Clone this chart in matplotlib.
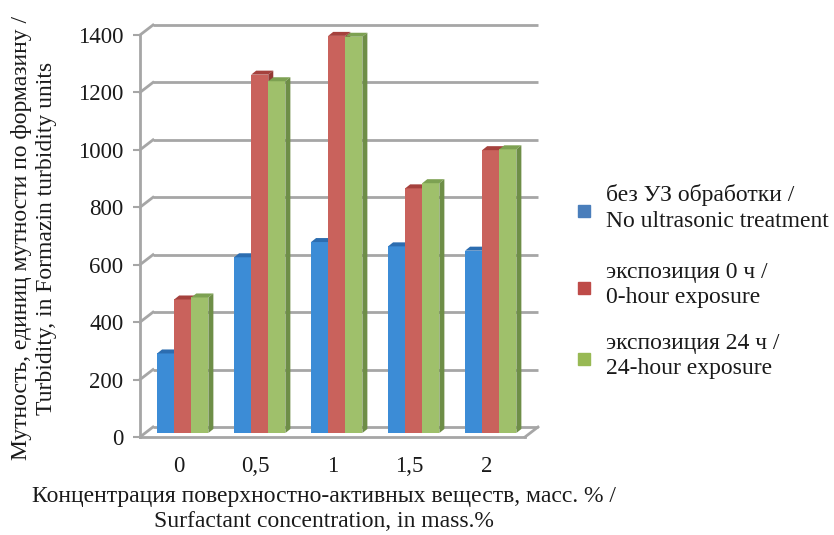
import matplotlib
matplotlib.use("Agg")
import matplotlib.pyplot as plt
from matplotlib.patches import Polygon

plt.rcParams['font.family'] = ['Liberation Serif', 'DejaVu Serif']

# Data
categories = ["0", "0,5", "1", "1,5", "2"]
no_ultrasound = [277, 612, 665, 650, 635]
exposure_0h = [465, 1248, 1383, 852, 985]
exposure_24h = [472, 1225, 1380, 870, 988]

series_labels = [
    "без УЗ обработки /\nNo ultrasonic treatment",
    "экспозиция 0 ч /\n0-hour exposure",
    "экспозиция 24 ч /\n24-hour exposure",
]
y_ticks = [0, 200, 400, 600, 800, 1000, 1200, 1400]
y_label = "Мутность, единиц мутности по формазину /\nTurbidity, in Formazin turbidity units"
x_label = "Концентрация поверхностно-активных веществ, масс. % /\nSurfactant concentration, in mass.%"

# Styling
front_cols = ["#3C8CD6", "#C9625C", "#9FC06B"]
top_cols = ["#2C6DB0", "#A5413D", "#7DA152"]
side_cols = ["#2A64A0", "#943934", "#6E8E47"]
legend_cols = ["#4A7EBB", "#BE4B48", "#98B954"]
grid_col = "#A6A6A6"
text_col = "#1a1a1a"
FS_TICK = 16.5
FS = 17

W, H = 834, 535
fig = plt.figure(figsize=(W / 100, H / 100), dpi=100)
ax_l, ax_b, ax_w, ax_h = 140, 98, 385, 402
ax = fig.add_axes([ax_l / W, ax_b / H, ax_w / W, ax_h / H])
x0, x1 = -0.5, 4.5
ax.set_xlim(x0, x1)
ax.set_ylim(0, 1400)

# pixel -> data unit conversions for the pseudo-3D depth
px_x = (x1 - x0) / ax_w
px_y = 1400 / ax_h

# back wall grid and floor
wall_dx, wall_dy = 13 * px_x, 10 * px_y
for v in y_ticks:
    ax.plot([x0 + wall_dx, x1 + wall_dx], [v + wall_dy] * 2, color=grid_col,
            lw=2, zorder=1, clip_on=False, solid_capstyle='butt')
    ax.plot([x0, x0 + wall_dx], [v, v + wall_dy], color=grid_col, lw=2,
            zorder=1, clip_on=False)
ax.plot([x0, x1], [0, 0], color=grid_col, lw=2, zorder=1, clip_on=False)
ax.plot([x1, x1 + wall_dx], [0, wall_dy], color=grid_col, lw=2, zorder=1,
        clip_on=False)

# bars
bw = 0.222
fx, fy = 5 * px_x, 4 * px_y
bx, by = 5 * px_x, 4 * px_y
series = [no_ultrasound, exposure_0h, exposure_24h]
z = 3
for i in range(len(categories)):
    for s, vals in enumerate(series):
        v = vals[i]
        left = i + (s - 1.5) * bw - 0.01 + fx
        ax.bar(left, v, width=bw, bottom=fy, align='edge', color=front_cols[s],
               zorder=z, lw=0)
        top = Polygon([(left, v + fy), (left + bx, v + fy + by),
                       (left + bw + bx, v + fy + by), (left + bw, v + fy)],
                      closed=True, facecolor=top_cols[s], lw=0, zorder=z,
                      clip_on=False)
        side = Polygon([(left + bw, fy), (left + bw + bx, fy + by),
                        (left + bw + bx, v + fy + by), (left + bw, v + fy)],
                       closed=True, facecolor=side_cols[s], lw=0, zorder=z,
                       clip_on=False)
        ax.add_patch(top)
        ax.add_patch(side)
        z += 1

# axes
for sp in ["top", "right", "bottom"]:
    ax.spines[sp].set_visible(False)
ax.spines["left"].set_color(grid_col)
ax.spines["left"].set_linewidth(2)
ax.set_yticks(y_ticks)
ax.set_yticklabels([str(t) for t in y_ticks], fontsize=FS_TICK)
ax.tick_params(axis='y', colors=grid_col, labelcolor=text_col, length=5,
               width=1.5, pad=7)
ax.set_xticks(range(len(categories)))
ax.set_xticklabels(categories, fontsize=FS_TICK)
ax.tick_params(axis='x', length=0, pad=14, labelcolor=text_col)
ax.patch.set_alpha(0)

fig.text(34 / W, 1 - 238 / H, y_label, rotation=90, ha='center', va='center',
         fontsize=FS, color=text_col, multialignment='center', linespacing=1.3)
fig.text(324 / W, 1 - 509 / H, x_label, ha='center', va='center',
         fontsize=FS, color=text_col, multialignment='center', linespacing=1.2)

# legend
leg_y = [211, 288, 359]
for s in range(3):
    yc = leg_y[s]
    fig.patches.append(plt.Rectangle((578 / W, 1 - (yc + 6) / H), 12 / W, 12 / H,
                                     transform=fig.transFigure, color=legend_cols[s]))
    fig.text(606 / W, 1 - (yc - 3) / H, series_labels[s], ha='left', va='center',
             fontsize=FS, color=text_col, linespacing=1.3)

fig.savefig("out.png", dpi=100)
